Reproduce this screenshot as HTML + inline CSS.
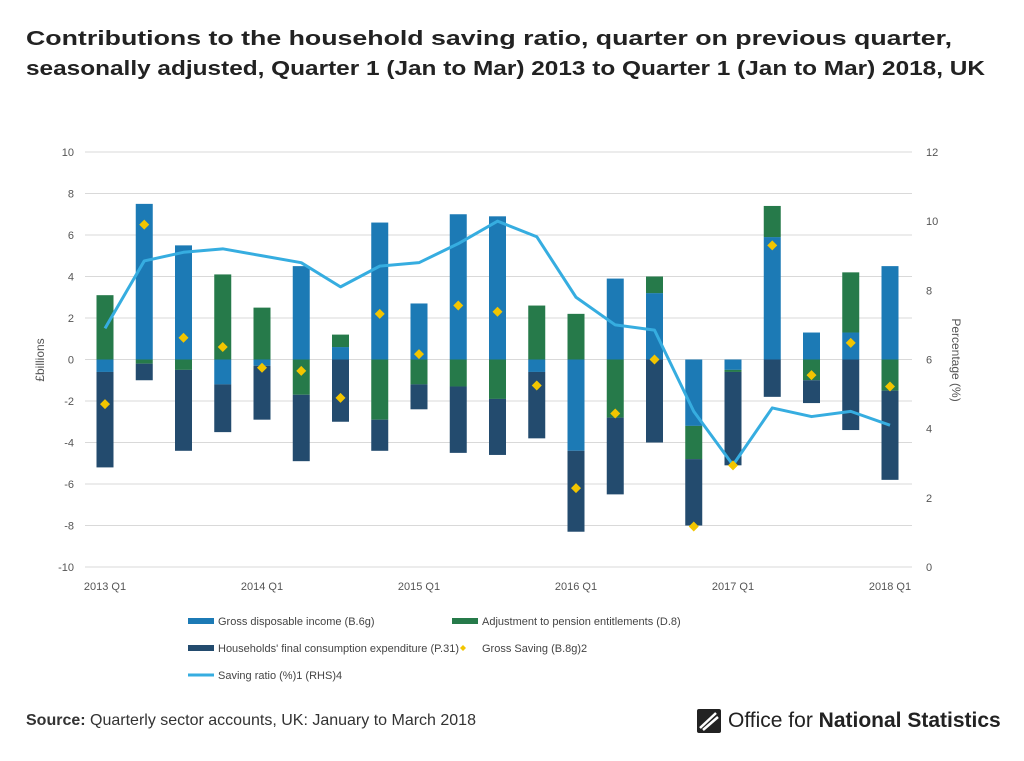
<!DOCTYPE html>
<html><head><meta charset="utf-8"><style>
body{margin:0;width:1024px;height:761px;background:#fff;font-family:"Liberation Sans",sans-serif;overflow:hidden;position:relative}
.src{position:absolute;left:26px;top:712px;font-size:16px;color:#333}
.logo{position:absolute;left:696px;top:708px;font-size:21px;color:#222;display:flex;align-items:center;gap:6px}
</style></head><body>
<svg id="chart" width="1024" height="761" style="position:absolute;left:0;top:0">
<text x="26" y="45" font-size="20" font-weight="bold" fill="#222" textLength="926" lengthAdjust="spacingAndGlyphs">Contributions to the household saving ratio, quarter on previous quarter,</text>
<text x="26" y="75" font-size="20" font-weight="bold" fill="#222" textLength="959" lengthAdjust="spacingAndGlyphs">seasonally adjusted, Quarter 1 (Jan to Mar) 2013 to Quarter 1 (Jan to Mar) 2018, UK</text>
</svg>
<div class="src"><b>Source:</b> Quarterly sector accounts, UK: January to March 2018</div>
<div class="logo"><svg width="26" height="26" viewBox="0 0 26 26"><rect x="1" y="1" width="24" height="24" rx="2" fill="#222"/><path d="M4 20 L20 5 M7 22 L22 9" stroke="#fff" stroke-width="2.5"/></svg><span>Office for <b>National Statistics</b></span></div>
<script>
const categories=["2013 Q1","2013 Q2","2013 Q3","2013 Q4","2014 Q1","2014 Q2","2014 Q3","2014 Q4","2015 Q1","2015 Q2","2015 Q3","2015 Q4","2016 Q1","2016 Q2","2016 Q3","2016 Q4","2017 Q1","2017 Q2","2017 Q3","2017 Q4","2018 Q1"];
const gdi=[-0.6,7.5,5.5,-1.2,-0.3,4.5,0.6,6.6,2.7,7.0,6.9,-0.6,-4.4,3.9,3.2,-3.2,-0.5,5.9,1.3,1.3,4.5];
const pension=[3.1,-0.2,-0.5,4.1,2.5,-1.7,0.6,-2.9,-1.2,-1.3,-1.9,2.6,2.2,-2.8,0.8,-1.6,-0.1,1.5,-1.0,2.9,-1.5];
const hfce=[-4.6,-0.8,-3.9,-2.3,-2.6,-3.2,-3.0,-1.5,-1.2,-3.2,-2.7,-3.2,-3.9,-3.7,-4.0,-3.2,-4.5,-1.8,-1.1,-3.4,-4.3];
const grossSaving=[-2.15,6.5,1.05,0.6,-0.4,-0.55,-1.85,2.2,0.26,2.6,2.3,-1.25,-6.2,-2.6,0.0,-8.05,-5.1,5.5,-0.75,0.8,-1.3];
const savingRatio=[6.9,8.85,9.1,9.2,9.0,8.8,8.1,8.7,8.8,9.35,10.0,9.55,7.8,7.0,6.85,4.5,2.95,4.6,4.35,4.5,4.1];
const leftTicks=[10,8,6,4,2,0,-2,-4,-6,-8,-10];
const rightTicks=[12,10,8,6,4,2,0];
const xLabels={0:"2013 Q1",4:"2014 Q1",8:"2015 Q1",12:"2016 Q1",16:"2017 Q1",20:"2018 Q1"};
const svg=document.getElementById('chart');const NS="http://www.w3.org/2000/svg";
const X0=105,DX=39.25,TOP=152,BOT=567;
const x=i=>X0+i*DX, yL=v=>TOP+(10-v)*(BOT-TOP)/20, yR=v=>TOP+(12-v)*(BOT-TOP)/12;
function mk(t,a,txt){const e=document.createElementNS(NS,t);for(const k in a)e.setAttribute(k,a[k]);if(txt!=null)e.textContent=txt;svg.appendChild(e);return e;}
leftTicks.forEach(v=>{
 const g=mk('line',{x1:85,x2:912,y1:yL(v),y2:yL(v),stroke:'#d9d9d9','stroke-width':1});
 
 
 const t=mk('text',{x:74,y:yL(v)+4,'text-anchor':'end','font-size':11,fill:'#555'},v);
 
 
});
rightTicks.forEach(v=>{
 const t=mk('text',{x:926,y:yR(v)+4,'font-size':11,fill:'#555'},v);
 
 
});
const yt=mk('text',{transform:'translate(44,360) rotate(-90)','text-anchor':'middle','font-size':12,fill:'#555'},'£billions');

const yt2=mk('text',{transform:'translate(952,360) rotate(90)','text-anchor':'middle','font-size':12,fill:'#555'},'Percentage (%)');

for(const i in xLabels){const t=mk('text',{x:x(+i),y:590,'text-anchor':'middle','font-size':11,fill:'#555'},xLabels[i]);
 }
const cols=['#1c7ab5','#267a4a','#234b6e'];const series=[gdi,pension,hfce];const names=['bar-gdi','bar-pension','bar-hfce'];
categories.forEach((c,i)=>{let pos=0,neg=0;
 series.forEach((s,k)=>{const v=s[i];let a,b;if(v>=0){a=pos;b=pos+v;pos=b;}else{a=neg;b=neg+v;neg=b;}
  const r=mk('rect',{x:x(i)-8.5,width:17,y:Math.min(yL(a),yL(b)),height:Math.abs(yL(a)-yL(b)),fill:cols[k]});
  });
});
const pts=savingRatio.map((v,i)=>x(i)+','+yR(v)).join(' ');
const pl=mk('polyline',{points:pts,fill:'none',stroke:'#36ade0','stroke-width':3,'stroke-linejoin':'round'});

grossSaving.forEach((v,i)=>{const cx=x(i),cy=yL(v);
 const d=mk('polygon',{points:`${cx},${cy-5} ${cx+5},${cy} ${cx},${cy+5} ${cx-5},${cy}`,fill:'#f2c500'});
 });
const leg=[[188,621,'rect',cols[0],'Gross disposable income (B.6g)'],[452,621,'rect',cols[1],'Adjustment to pension entitlements (D.8)'],
[188,648,'rect',cols[2],"Households' final consumption expenditure (P.31)"],[452,648,'dia','#f2c500','Gross Saving (B.8g)2'],[188,675,'line','#36ade0','Saving ratio (%)1 (RHS)4']];
leg.forEach(l=>{let m;
 if(l[2]=='rect')m=mk('rect',{x:l[0],y:l[1]-3,width:26,height:6,fill:l[3]});
 else if(l[2]=='line')m=mk('rect',{x:l[0],y:l[1]-1.5,width:26,height:3,fill:l[3]});
 else m=mk('polygon',{points:`${l[0]+11},${l[1]-3} ${l[0]+14},${l[1]} ${l[0]+11},${l[1]+3} ${l[0]+8},${l[1]}`,fill:l[3]});
 
 const t=mk('text',{x:l[0]+30,y:l[1]+4,'font-size':11,fill:'#444'},l[4]);
 });
</script>
</body></html>
